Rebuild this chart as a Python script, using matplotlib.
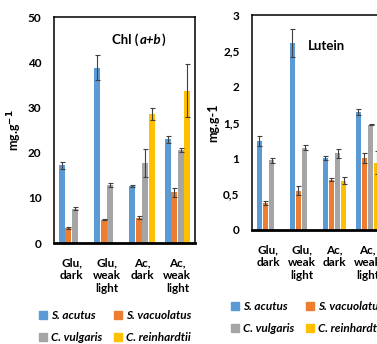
import matplotlib.pyplot as plt
from matplotlib.patches import Patch
import numpy as np

FIGURE_WIDTH_PX = 377
FIGURE_HEIGHT_PX = 344
FIGURE_DPI = 100

CONDITIONS = ["Glu,\ndark", "Glu,\nweak\nlight", "Ac,\ndark", "Ac,\nweak\nlight"]
SPECIES = ["S. acutus", "S. vacuolatus", "C. vulgaris", "C. reinhardtii"]
COLORS = ["#5B9BD5", "#ED7D31", "#A5A5A5", "#FFC000"]

# rows: species, columns: conditions (nan = not measured)
CHL_VALUES = [
    [17.2, 38.8, 12.6, 22.9],
    [3.3, 5.1, 5.6, 11.2],
    [7.6, 12.8, 17.6, 20.6],
    [np.nan, np.nan, 28.6, 33.7],
]
CHL_ERRORS = [
    [0.8, 2.7, 0.2, 0.7],
    [0.2, 0.1, 0.3, 1.0],
    [0.4, 0.5, 3.1, 0.4],
    [np.nan, np.nan, 1.3, 5.8],
]
LUTEIN_VALUES = [
    [1.24, 2.61, 1.00, 1.65],
    [0.38, 0.55, 0.70, 1.01],
    [0.97, 1.15, 1.07, 1.47],
    [np.nan, np.nan, 0.69, 0.94],
]
LUTEIN_ERRORS = [
    [0.07, 0.20, 0.03, 0.04],
    [0.03, 0.06, 0.02, 0.07],
    [0.03, 0.03, 0.06, 0.01],
    [np.nan, np.nan, 0.05, 0.16],
]
LUTEIN_TICKS = [0, 0.5, 1, 1.5, 2, 2.5, 3]
LUTEIN_TICK_LABELS = ["0", "0,5", "1", "1,5", "2", "2,5", "3"]

BAR_WIDTH = 0.17
BAR_STEP = 0.185

plt.rcParams["font.family"] = ["Lato", "DejaVu Sans"]
plt.rcParams["font.weight"] = "bold"


def draw_bars(ax, values, errors):
    x = np.arange(len(CONDITIONS))
    for i, (vals, errs) in enumerate(zip(values, errors)):
        offset = (i - 1.5) * BAR_STEP
        ax.bar(x + offset, vals, BAR_WIDTH, color=COLORS[i], zorder=2)
        ax.errorbar(x + offset, vals, yerr=errs, fmt="none", ecolor="#404040",
                    elinewidth=0.8, capsize=1.8, capthick=0.8, zorder=3)
    ax.set_xlim(-0.5, 3.5)
    ax.set_xticks(x)
    ax.set_xticklabels(CONDITIONS, fontsize=9, fontweight="bold", linespacing=1.25)
    ax.tick_params(axis="both", length=0, labelsize=8.5)
    ax.tick_params(axis="x", pad=10)
    ax.tick_params(axis="y", pad=9)
    for spine in ax.spines.values():
        spine.set_linewidth(1.1)
    ax.spines["bottom"].set_linewidth(2.0)


def add_legend(ax, anchor):
    handles = [Patch(color=c) for c in COLORS]
    order = [0, 2, 1, 3]
    ax.legend(
        [handles[i] for i in order],
        [SPECIES[i] for i in order],
        ncol=2,
        loc="upper left",
        bbox_to_anchor=anchor,
        bbox_transform=ax.figure.transFigure,
        frameon=False,
        handlelength=0.7,
        handleheight=0.7,
        handletextpad=0.3,
        columnspacing=1.0,
        labelspacing=0.95,
        borderaxespad=0,
        borderpad=0,
        prop={"size": 8.5, "style": "italic", "weight": "bold"},
    )


fig = plt.figure(figsize=(FIGURE_WIDTH_PX / FIGURE_DPI, FIGURE_HEIGHT_PX / FIGURE_DPI),
                 dpi=FIGURE_DPI)

ax1 = fig.add_axes([54 / 377, 1 - 243 / 344, 141 / 377, 226 / 344])
draw_bars(ax1, CHL_VALUES, CHL_ERRORS)
ax1.set_ylim(0, 50)
ax1.set_yticks([0, 10, 20, 30, 40, 50])
ax1.set_ylabel("mg.g$^{-1}$", fontsize=9, fontweight="bold", labelpad=3)
title_start = ax1.text(0.41, 0.9, "Chl (", transform=ax1.transAxes, fontsize=9.5,
                       fontweight="bold", ha="left", va="center")
title_mid = ax1.annotate("a+b", xy=(1, 0.5), xycoords=title_start, xytext=(1, 0),
                         textcoords="offset points", fontsize=9.5, fontweight="bold",
                         style="italic", ha="left", va="center")
ax1.annotate(")", xy=(1, 0.5), xycoords=title_mid, xytext=(0.3, 0),
             textcoords="offset points", fontsize=9.5, fontweight="bold",
             ha="left", va="center")
add_legend(ax1, (39 / 377, 1 - 310 / 344))

ax2 = fig.add_axes([252 / 377, 1 - 230 / 344, 132 / 377, 215 / 344])
draw_bars(ax2, LUTEIN_VALUES, LUTEIN_ERRORS)
ax2.set_ylim(0, 3)
ax2.set_yticks(LUTEIN_TICKS)
ax2.set_yticklabels(LUTEIN_TICK_LABELS)
ax2.set_ylabel("mg.g-1", fontsize=9, fontweight="bold", labelpad=3)
ax2.text(0.42, 0.856, "Lutein", transform=ax2.transAxes, fontsize=9.5,
         fontweight="bold", ha="left", va="center")
add_legend(ax2, (231 / 377, 1 - 301 / 344))

fig.savefig("out.png", dpi=FIGURE_DPI)
